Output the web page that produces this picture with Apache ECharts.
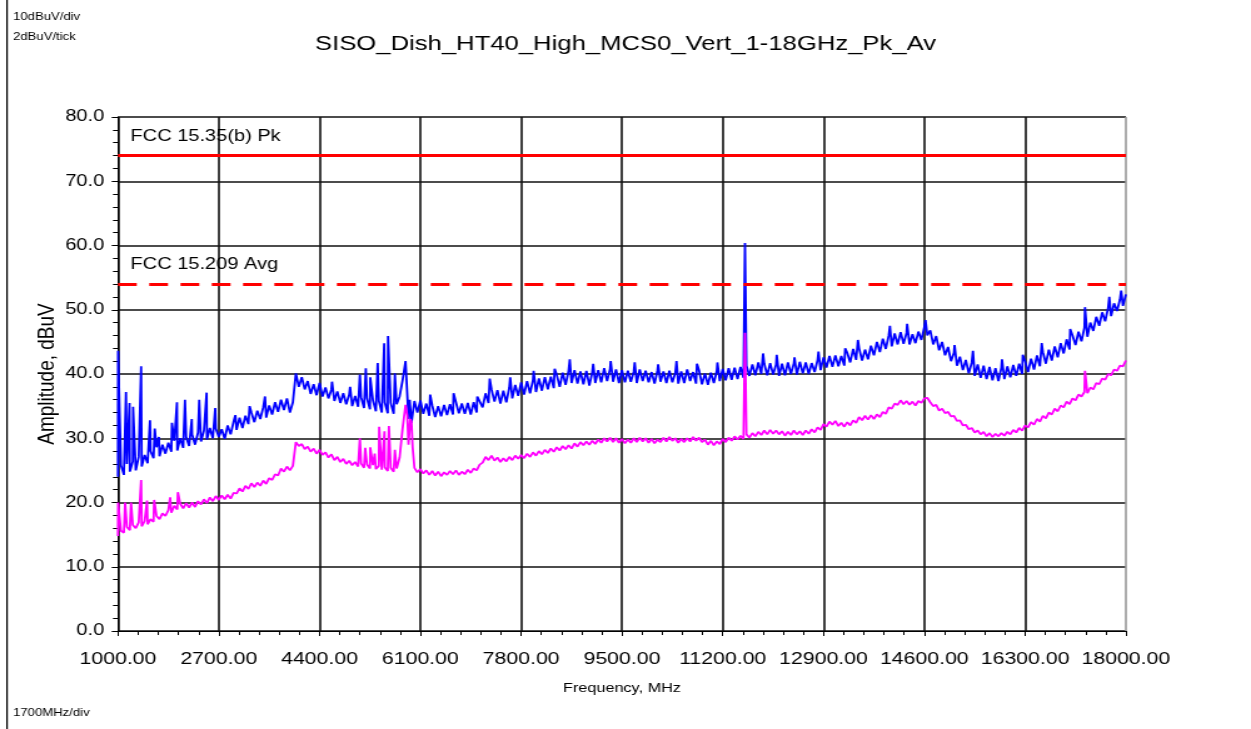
<html>
<head>
<meta charset="utf-8">
<script src="https://cdn.jsdelivr.net/npm/echarts@6/dist/echarts.min.js"></script>
<style>
  body { margin: 0; background: #fff; overflow: hidden; }
  #wrap { width: 1251px; height: 729px; overflow: hidden; }
  /* the source picture is a stretched screenshot, so draw narrow and widen */
  #chart { width: 1000px; height: 729px; transform: scaleX(1.251); transform-origin: 0 0; }
</style>
</head>
<body>
<div id="wrap"><div id="chart"></div></div>
<script>
// sweep: one reading every 50 MHz from 1000 MHz
var freqStart = 1000;
var freqStep = 50;

// peak detector trace, dBuV
var peakValues = [
  24.0, 25.8, 24.3, 26.0, 24.8, 26.4, 25.0, 27.1, 25.6, 27.4,
  26.1, 28.0, 26.9, 28.6, 27.2, 29.0, 27.6, 29.3, 27.9, 29.6,
  28.1, 30.0, 28.5, 30.2, 28.8, 30.6, 29.0, 30.9, 29.5, 31.2,
  29.8, 31.6, 30.0, 31.5, 30.2, 31.4, 29.9, 32.0, 30.6, 32.6,
  31.3, 33.2, 31.6, 33.5, 32.2, 34.0, 32.5, 34.3, 33.0, 34.8,
  33.2, 35.1, 33.7, 35.6, 34.1, 36.0, 34.4, 36.2, 34.0, 35.6,
  40.1, 38.0, 39.5, 37.6, 38.9, 36.9, 38.4, 36.7, 38.6, 36.5,
  37.9, 36.2, 37.6, 35.8, 37.3, 35.5, 37.0, 35.3, 36.8, 35.0,
  36.6, 34.9, 36.4, 34.7, 36.2, 34.5, 35.9, 34.2, 35.8, 34.0,
  35.6, 33.9, 35.5, 33.8, 35.3, 36.5, 39.0, 42.0, 33.0, 32.4,
  35.8, 34.0, 35.9, 33.8, 35.4, 33.5, 35.1, 33.3, 35.0, 33.4,
  35.2, 33.6, 35.3, 33.7, 35.6, 33.9, 35.4, 33.8, 35.5, 33.7,
  35.6, 34.0, 36.2, 34.8, 37.0, 35.5, 37.6, 35.7, 37.5, 35.4,
  37.4, 35.6, 37.9, 36.2, 38.3, 36.6, 38.7, 36.8, 38.9, 37.0,
  39.1, 37.2, 39.3, 37.4, 39.5, 37.6, 39.6, 37.8, 39.9, 38.0,
  40.2, 38.3, 40.5, 38.6, 40.6, 38.5, 40.4, 38.4, 40.5, 38.2,
  40.3, 38.6, 40.6, 38.7, 40.9, 38.9, 40.8, 38.8, 40.7, 38.6,
  40.6, 38.7, 40.5, 38.8, 40.4, 38.6, 40.7, 38.9, 40.5, 38.7,
  40.3, 38.5, 40.6, 38.8, 40.4, 38.6, 40.5, 38.7, 40.2, 38.5,
  40.4, 38.6, 40.7, 38.9, 40.3, 38.5, 40.6, 38.4, 40.1, 38.3,
  40.2, 38.6, 40.5, 38.9, 40.8, 39.0, 40.9, 39.1, 41.0, 39.2,
  41.1, 39.4, 41.3, 39.7, 41.5, 39.8, 41.8, 40.0, 41.6, 39.8,
  41.7, 39.9, 41.5, 39.7, 41.6, 39.8, 41.8, 40.0, 41.7, 39.9,
  41.9, 40.1, 41.8, 40.0, 41.7, 40.3, 42.2, 40.6, 42.6, 41.0,
  42.8, 41.1, 42.9, 41.2, 42.8, 41.3, 43.3, 41.8, 43.9, 42.2,
  44.0, 42.1, 43.8, 42.3, 44.4, 42.9, 45.0, 43.4, 45.5, 43.9,
  46.0, 44.3, 46.3, 44.6, 46.5, 44.7, 46.4, 44.6, 46.2, 44.8,
  46.6, 45.3, 47.3, 46.0, 46.8, 44.6, 45.9, 43.7, 45.0, 42.9,
  44.2, 42.0, 43.3, 41.3, 42.7, 40.6, 42.2, 40.1, 41.8, 39.7,
  41.5, 39.4, 41.3, 39.2, 41.1, 39.0, 40.9, 38.9, 41.0, 39.2,
  41.2, 39.5, 41.4, 39.7, 41.6, 40.0, 42.0, 40.3, 42.4, 40.7,
  42.9, 41.2, 43.4, 41.6, 43.8, 42.1, 44.3, 42.6, 44.8, 43.2,
  45.4, 43.8, 46.0, 44.5, 46.6, 45.1, 47.2, 45.8, 48.0, 46.7,
  48.9, 47.5, 49.6, 48.2, 50.3, 49.0, 51.0, 49.8, 51.6, 50.6,
  52.4
];

// average detector trace, dBuV
var avgValues = [
  14.8, 15.6, 15.3, 16.2, 15.7, 16.5, 16.0, 16.9, 16.3, 17.1,
  16.6, 17.4, 17.0, 17.9, 17.4, 18.3, 17.9, 18.8, 18.4, 19.5,
  18.9, 19.8, 19.1, 19.9, 19.2, 20.0, 19.3, 20.2, 19.7, 20.5,
  19.9, 20.8, 20.2, 21.0, 20.4, 21.1, 20.5, 21.2, 20.6, 21.5,
  21.4, 22.2, 21.7, 22.6, 22.1, 23.0, 22.4, 23.1, 22.6, 23.4,
  22.9, 23.8, 23.5, 24.4, 24.2, 25.3, 24.8, 25.6, 25.0, 25.7,
  29.4, 28.8, 29.1, 28.3, 28.7, 27.9, 28.4, 27.6, 28.2, 27.4,
  27.8, 27.0, 27.5, 26.6, 27.1, 26.3, 26.8, 26.0, 26.5, 25.8,
  26.3, 25.6, 26.1, 25.4, 25.9, 25.3, 25.8, 25.2, 25.7, 25.1,
  25.5, 24.9, 25.4, 24.8, 25.3, 27.0, 31.5, 35.2, 29.0, 32.6,
  25.4, 24.7, 25.2, 24.5, 25.0, 24.3, 24.9, 24.2, 24.8, 24.1,
  24.7, 24.3, 24.9, 24.4, 25.0, 24.3, 24.8, 24.4, 25.1, 24.6,
  25.3, 25.0, 25.9, 26.2, 27.1, 26.6, 27.3, 26.5, 27.0, 26.3,
  26.9, 26.4, 27.1, 26.6, 27.3, 26.8, 27.4, 26.9, 27.6, 27.1,
  27.8, 27.3, 28.0, 27.5, 28.2, 27.7, 28.4, 27.9, 28.6, 28.1,
  28.8, 28.3, 28.9, 28.4, 29.2, 28.7, 29.4, 28.9, 29.5, 29.0,
  29.6, 29.1, 29.8, 29.3, 30.0, 29.5, 30.1, 29.4, 30.0, 29.3,
  29.9, 29.2, 29.8, 29.3, 30.0, 29.4, 30.1, 29.5, 30.0, 29.3,
  29.9, 29.2, 29.8, 29.4, 30.1, 29.5, 30.2, 29.6, 30.0, 29.3,
  29.9, 29.4, 30.0, 29.5, 30.2, 29.6, 30.1, 29.4, 29.8, 29.0,
  29.6, 28.9, 29.5, 29.1, 29.9, 29.4, 30.1, 29.6, 30.3, 29.8,
  30.4, 29.9, 30.6, 30.1, 30.8, 30.3, 31.0, 30.5, 31.2, 30.6,
  31.3, 30.7, 31.2, 30.6, 31.1, 30.4, 31.0, 30.5, 31.2, 30.6,
  31.1, 30.5, 31.2, 30.7, 31.4, 30.9, 31.7, 31.3, 32.2, 31.8,
  32.6, 32.1, 32.7, 31.9, 32.4, 31.8, 32.5, 32.0, 32.8, 32.4,
  33.3, 32.8, 33.5, 32.9, 33.6, 33.0, 33.7, 33.3, 34.1, 33.8,
  34.8, 34.6, 35.4, 35.2, 35.9, 35.3, 35.8, 35.2, 35.7, 35.1,
  35.8, 35.5, 36.2, 36.3, 35.6, 35.0, 35.2, 34.3, 34.6, 33.9,
  34.1, 33.4, 33.5, 32.7, 32.8, 32.0, 32.1, 31.4, 31.6, 30.9,
  31.2, 30.6, 31.0, 30.3, 30.8, 30.2, 30.7, 30.3, 30.8, 30.4,
  31.0, 30.6, 31.3, 30.9, 31.6, 31.2, 32.0, 31.7, 32.5, 32.1,
  33.0, 32.6, 33.5, 33.1, 34.0, 33.7, 34.6, 34.2, 35.1, 34.8,
  35.7, 35.3, 36.2, 35.9, 36.8, 36.5, 37.2, 37.0, 37.9, 37.6,
  38.6, 38.4, 39.3, 39.1, 40.0, 39.8, 40.7, 40.5, 41.3, 41.2,
  42.1
];

// narrow spurs between sweep points: [MHz, dBuV]
var peakSpikes = [
  [1002, 43.6], [1135, 37.2], [1195, 35.5], [1255, 34.9], [1390, 41.2],
  [1540, 32.8], [1620, 31.5], [1690, 30.2], [1910, 32.4], [1995, 35.6],
  [2130, 36.0], [2245, 33.0], [2370, 36.0], [2495, 37.1], [2640, 34.7],
  [2980, 33.6], [3220, 35.0], [3480, 36.5], [4610, 38.8], [4915, 38.0],
  [5080, 39.9], [5180, 40.9], [5255, 39.5], [5380, 41.7], [5490, 44.8],
  [5555, 45.9], [5670, 40.1], [5870, 38.5], [5920, 36.0], [6265, 36.8],
  [6660, 37.0], [7060, 36.5], [7270, 39.3], [7615, 39.5], [8010, 40.5],
  [8365, 40.8], [8620, 42.3], [9015, 41.6], [9310, 42.0], [9715, 41.8],
  [10110, 41.5], [10420, 42.0], [10765, 41.6], [11110, 41.8], [11575, 60.4],
  [11880, 43.2], [12110, 43.0], [12410, 42.6], [12815, 43.5], [13265, 44.0],
  [13480, 45.3], [14020, 47.5], [14310, 47.8], [14620, 48.4], [15110, 44.5],
  [15420, 43.6], [15910, 42.3], [16260, 43.0], [16580, 44.8], [17060, 47.0],
  [17310, 50.4], [17720, 52.0], [17920, 53.0]
];
var avgSpikes = [
  [1003, 20.0], [1120, 20.0], [1220, 20.0], [1390, 23.5], [1490, 20.3],
  [1610, 20.4], [1880, 20.8], [2010, 21.6], [5080, 30.0], [5170, 28.5],
  [5255, 28.6], [5330, 27.6], [5405, 31.8], [5495, 31.1], [5570, 31.9],
  [5670, 28.2], [5880, 33.5], [5915, 31.0], [5930, 33.0], [5970, 28.5],
  [11575, 46.4], [17310, 40.5]
];

var limitLevels = [74, 54];
var limitNames = ['FCC 15.35(b) Pk', 'FCC 15.209 Avg'];

var font = "'Liberation Sans', Arial, sans-serif";

function trace(values, spikes) {
  var pts = values.map(function (v, i) { return [freqStart + i * freqStep, v]; });
  pts = pts.concat(spikes);
  pts.sort(function (a, b) { return a[0] - b[0]; });
  return pts;
}

var gridColors = [];
for (var k = 0; k < 10; k++) gridColors.push('#111');
gridColors.push('#999');

var myChart = echarts.init(document.getElementById('chart'));
var option = {
  animation: false,
  backgroundColor: '#fff',
  title: {
    text: 'SISO_Dish_HT40_High_MCS0_Vert_1-18GHz_Pk_Av',
    left: 'center',
    top: 34,
    padding: 0,
    textStyle: { fontFamily: font, fontSize: 20.5, fontWeight: 'normal', color: '#000' }
  },
  graphic: [
    { type: 'line', shape: { x1: 5.6, y1: 0, x2: 5.6, y2: 729 }, style: { stroke: '#000', lineWidth: 1.2 } },
    { type: 'text', left: 10.4, top: 12, style: { text: '10dBuV/div', font: '10.5px ' + font, fill: '#000' } },
    { type: 'text', left: 10.4, top: 32, style: { text: '2dBuV/tick', font: '10.5px ' + font, fill: '#000' } },
    { type: 'text', left: 10.4, top: 708, style: { text: '1700MHz/div', font: '10.5px ' + font, fill: '#000' } }
  ],
  grid: { left: 94.3, right: 100, top: 117, bottom: 98 },
  xAxis: {
    type: 'value',
    min: 1000,
    max: 18000,
    interval: 1700,
    name: 'Frequency, MHz',
    nameLocation: 'middle',
    nameGap: 51,
    nameMoveOverlap: false,
    nameTextStyle: { fontFamily: font, fontSize: 13, color: '#000' },
    axisLine: { onZero: false, lineStyle: { color: '#000', width: 1 } },
    axisTick: { length: 5, lineStyle: { color: '#000' } },
    minorTick: { show: true, splitNumber: 5, length: 4, lineStyle: { color: '#000' } },
    axisLabel: {
      margin: 20,
      fontFamily: font, fontSize: 17, color: '#000',
      formatter: function (v) { return v.toFixed(2); }
    },
    splitLine: { show: true, lineStyle: { color: gridColors, width: 1.6 } }
  },
  yAxis: {
    type: 'value',
    min: 0,
    max: 80,
    interval: 10,
    name: 'Amplitude, dBuV',
    nameLocation: 'middle',
    nameGap: 47,
    nameMoveOverlap: false,
    nameTextStyle: { fontFamily: font, fontSize: 19, color: '#000' },
    axisLine: { show: true, lineStyle: { color: '#000', width: 1 } },
    axisTick: { show: true, length: 5, lineStyle: { color: '#000' } },
    minorTick: { show: true, splitNumber: 5, length: 4, lineStyle: { color: '#000' } },
    axisLabel: {
      margin: 11,
      fontFamily: font, fontSize: 16, color: '#000',
      formatter: function (v) { return v.toFixed(1); }
    },
    splitLine: { show: true, lineStyle: { color: '#111', width: 1.6 } }
  },
  series: [
    {
      name: 'Peak',
      type: 'line',
      data: trace(peakValues, peakSpikes),
      showSymbol: false,
      lineStyle: { color: '#0000ff', width: 1.8 },
      z: 2
    },
    {
      name: 'Average',
      type: 'line',
      data: trace(avgValues, avgSpikes),
      showSymbol: false,
      lineStyle: { color: '#ff00ff', width: 1.8 },
      z: 3
    },
    {
      name: 'Limits',
      type: 'line',
      data: [],
      z: 4,
      markLine: {
        silent: true,
        symbol: 'none',
        animation: false,
        data: limitLevels.map(function (lv, i) {
          return {
            yAxis: lv,
            lineStyle: { color: '#ff0000', width: 3, type: i === 0 ? 'solid' : [15, 10] },
            label: {
              show: true,
              position: 'insideStartTop',
              distance: [10, 11],
              formatter: limitNames[i],
              fontFamily: font, fontSize: 16, color: '#000'
            }
          };
        })
      }
    }
  ]
};
myChart.setOption(option);
</script>
</body>
</html>
